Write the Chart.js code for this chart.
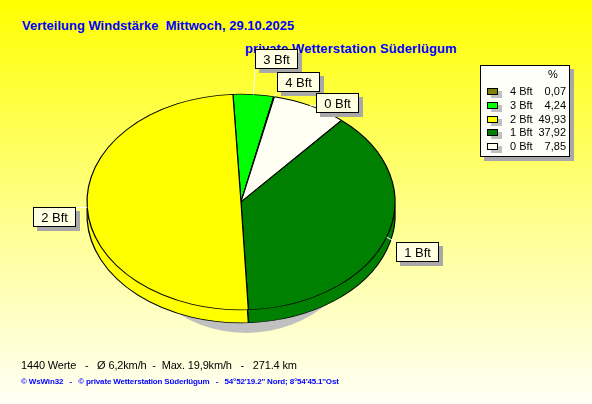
<!DOCTYPE html>
<html>
<head>
<meta charset="utf-8">
<script src="https://cdn.jsdelivr.net/npm/chart.js@4"></script>
<style>
    html, body { margin: 0; padding: 0; }
    body {
        width: 592px; height: 404px; overflow: hidden; position: relative;
        background: linear-gradient(#ffff00 0%, #ffff90 55%, #fffff6 100%);
        font-family: Arial, "Liberation Sans", sans-serif;
    }
    #c { position: absolute; left: 0; top: 0; }
    .t { position: absolute; white-space: pre; line-height: 1; }
    #title { left: 22px; top: 19px; font-size: 13px; font-weight: bold; color: #0000ff; }
    #sub { left: 245px; top: 42px; font-size: 13px; font-weight: bold; color: #0000ff; letter-spacing: 0.1px; }
    #info { left: 21px; top: 360px; font-size: 11px; color: #000; letter-spacing: -0.15px; }
    #foot { left: 21px; top: 378px; font-size: 8px; font-weight: bold; color: #0000ff; letter-spacing: -0.15px; }
</style>
</head>
<body>
<div class="t" id="title">Verteilung Windstärke  Mittwoch, 29.10.2025</div>
<div class="t" id="sub">private Wetterstation Süderlügum</div>
<canvas id="c" width="592" height="404"></canvas>
<div class="t" id="info">1440 Werte   -   Ø 6,2km/h  -  Max. 19,9km/h   -   271.4 km</div>
<div class="t" id="foot">© WsWin32   -   © private Wetterstation Süderlügum   -   54°52'19.2'' Nord; 8°54'45.1''Ost</div>

<script>
// -------------------------------
// Daten (Reihenfolge wie Legende)
// -------------------------------
const labels = ["4 Bft", "3 Bft", "2 Bft", "1 Bft", "0 Bft"];
const percent = [0.07, 4.24, 49.93, 37.92, 7.85];
const colors = ["#808000", "#00ff00", "#ffff00", "#008000", "#fffff4"];

// Reihenfolge im Kuchen, im Uhrzeigersinn ab oben
const pieOrder = [1, 0, 4, 3, 2];

// Lage der Beschriftungskästen relativ zum Tortenrand
const labelShift = {
    "3 Bft": [2, -46],
    "4 Bft": [3, -25],
    "0 Bft": [6, -13],
    "1 Bft": [9, 5],
    "2 Bft": [-54, 0]
};

const TILT = 0.70;
const DEPTH = 13;

// -------------------------------
// 3D-Kippung + Seitenfläche
// -------------------------------
const tiltPlugin = {
    id: "tilt",
    beforeDatasetsDraw(chart) {
        const ctx = chart.ctx;
        const arcs = chart.getDatasetMeta(0).data;
        const x = arcs[0].x, y = arcs[0].y, r = arcs[0].outerRadius;

        // Schatten
        ctx.save();
        ctx.fillStyle = "#c0c0c0";
        ctx.beginPath();
        ctx.ellipse(x + 5, y + 20, r * 0.78, r * 0.72, 0, 0, Math.PI * 2);
        ctx.fill();
        ctx.restore();

        // Unterseite
        ctx.save();
        ctx.translate(x, y + DEPTH);
        ctx.scale(1, TILT);
        ctx.translate(-x, -y);
        arcs.forEach(a => a.draw(ctx));
        ctx.restore();

        // Oberseite (wird von Chart.js gezeichnet)
        ctx.save();
        ctx.translate(x, y);
        ctx.scale(1, TILT);
        ctx.translate(-x, -y);
    },
    afterDatasetsDraw(chart) {
        chart.ctx.restore();
    }
};

// -------------------------------
// Beschriftungskästen
// -------------------------------
const labelPlugin = {
    id: "boxLabels",
    afterDatasetsDraw(chart) {
        const ctx = chart.ctx;
        const meta = chart.getDatasetMeta(0);
        ctx.save();
        ctx.font = "13px Arial, 'Liberation Sans'";
        ctx.textBaseline = "middle";

        meta.data.forEach((arc, i) => {
            const name = chart.data.labels[i];
            const shift = labelShift[name];
            const a = (arc.startAngle + arc.endAngle) / 2;
            const ax = arc.x + Math.cos(a) * arc.outerRadius;
            const ay = arc.y + Math.sin(a) * arc.outerRadius * TILT;

            const w = Math.round(ctx.measureText(name).width + 16);
            const h = 20;
            const bx = Math.round(ax + shift[0]);
            const by = Math.round(ay + shift[1]);

            // Linie zum Tortenrand
            const px = Math.min(Math.max(ax, bx), bx + w);
            const py = Math.min(Math.max(ay, by), by + h);
            ctx.strokeStyle = "#ffffff";
            ctx.lineWidth = 1;
            ctx.beginPath();
            ctx.moveTo(ax, ay);
            ctx.lineTo(px, py);
            ctx.stroke();

            ctx.fillStyle = "#a8a8a8";
            ctx.fillRect(bx + 4, by + 4, w, h);
            ctx.fillStyle = "#ffffe1";
            ctx.fillRect(bx, by, w, h);
            ctx.strokeStyle = "#000000";
            ctx.strokeRect(bx + 0.5, by + 0.5, w - 1, h - 1);

            ctx.fillStyle = "#000000";
            ctx.textAlign = "center";
            ctx.fillText(name, bx + w / 2, by + h / 2 + 1);
        });
        ctx.restore();
    }
};

// -------------------------------
// Legende mit Prozentwerten
// -------------------------------
const legendPlugin = {
    id: "pctLegend",
    afterDraw(chart) {
        const ctx = chart.ctx;
        const lx = 480, ly = 65, lw = 90, lh = 92;
        ctx.save();
        ctx.fillStyle = "#a8a8a8";
        ctx.fillRect(lx + 4, ly + 4, lw, lh);
        ctx.fillStyle = "#fffffa";
        ctx.fillRect(lx, ly, lw, lh);
        ctx.strokeStyle = "#000";
        ctx.lineWidth = 1;
        ctx.strokeRect(lx + 0.5, ly + 0.5, lw - 1, lh - 1);

        ctx.font = "11px Arial, 'Liberation Sans'";
        ctx.textBaseline = "middle";
        ctx.fillStyle = "#000";
        ctx.textAlign = "center";
        ctx.fillText("%", 553, 75);

        labels.forEach((name, i) => {
            const y = Math.round(92 + i * 13.75);
            ctx.fillStyle = "#c0c0c0";
            ctx.fillRect(491, y - 1, 11, 7);
            ctx.fillStyle = colors[i];
            ctx.fillRect(487, y - 4, 11, 7);
            ctx.strokeStyle = "#000";
            ctx.strokeRect(487.5, y - 3.5, 10, 6);

            ctx.fillStyle = "#000";
            ctx.textAlign = "left";
            ctx.fillText(name, 510, y);
            ctx.textAlign = "right";
            ctx.fillText(percent[i].toFixed(2).replace(".", ","), 566, y);
        });
        ctx.restore();
    }
};

// -------------------------------
// Kuchen
// -------------------------------
const pieLabels = pieOrder.map(i => labels[i]);
const pieValues = pieOrder.map(i => percent[i]);
const pieColors = pieOrder.map(i => colors[i]);

new Chart(document.getElementById("c"), {
    type: "pie",
    data: {
        labels: pieLabels,
        datasets: [{
            data: pieValues,
            backgroundColor: pieColors,
            borderColor: "#000000",
            borderWidth: 1.2
        }]
    },
    options: {
        responsive: false,
        animation: false,
        events: [],
        rotation: -3,
        radius: 154,
        layout: { padding: { left: 0, right: 110, top: 0, bottom: 0 } },
        plugins: {
            legend: { display: false },
            tooltip: { enabled: false }
        }
    },
    plugins: [tiltPlugin, labelPlugin, legendPlugin]
});
</script>
</body>
</html>
